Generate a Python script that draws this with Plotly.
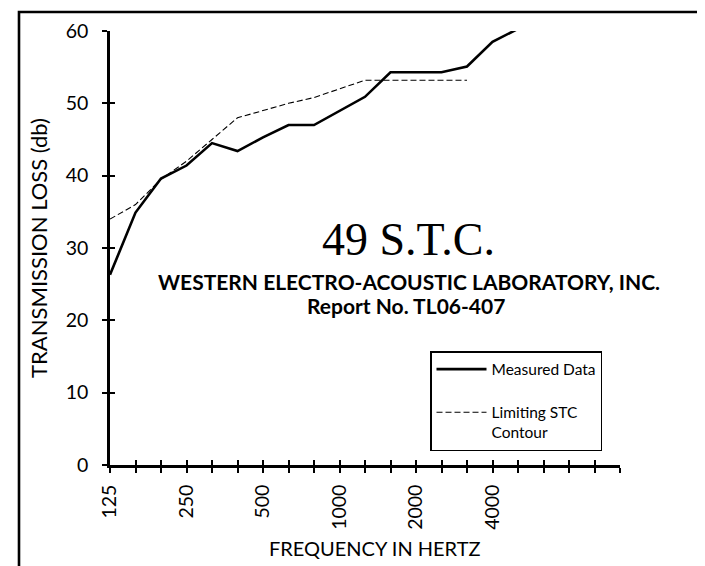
import plotly.graph_objects as go

# ---- data ----
bands = ["125", "160", "200", "250", "315", "400", "500", "630", "800", "1000",
         "1250", "1600", "2000", "2500", "3150", "4000", "5000"]
measured_tl = [26.3, 34.9, 39.6, 41.4, 44.5, 43.4, 45.3, 47.0, 47.0, 49.0,
               50.9, 54.3, 54.3, 54.3, 55.1, 58.5, 60.3]
stc_contour = [34.0, 36.0, 39.5, 42.0, 45.0, 48.0, 49.0, 50.0, 50.8, 52.0,
               53.2, 53.2, 53.2, 53.2, 53.2]
tick_labels = ["125", "", "", "250", "", "", "500", "", "", "1000", "", "",
               "2000", "", "", "4000", "", "", "", "", ""]
y_ticks = [0, 10, 20, 30, 40, 50, 60]

W, H = 705, 566
L, R, T, B = 102, 93, 23, 109
PW, PH = W - L - R, H - T - B


def px(x):
    return (x - L) / PW


def py(y):
    return (H - B - y) / PH


font_family = "Lato"

fig = go.Figure()
fig.add_trace(go.Scatter(
    x=list(range(len(measured_tl))), y=measured_tl, mode="lines",
    name="Measured Data", line=dict(color="black", width=2.6),
    legendgroup="a"))
fig.add_trace(go.Scatter(
    x=list(range(len(stc_contour))), y=stc_contour, mode="lines",
    name="Limiting STC<br>Contour",
    line=dict(color="black", width=1.1, dash="6px,3px"),
    legendgroup="b"))
# invisible trace on overlay axes (for crossing tick marks)
fig.add_trace(go.Scatter(x=[0], y=[0], xaxis="x2", yaxis="y2", mode="lines",
                         showlegend=False, hoverinfo="skip",
                         line=dict(color="rgba(0,0,0,0)")))

tickvals = list(range(len(tick_labels)))
fig.update_layout(
    width=W, height=H,
    margin=dict(l=L, r=R, t=T, b=B),
    paper_bgcolor="white", plot_bgcolor="white",
    font=dict(family=font_family, color="black", size=19),
    xaxis=dict(range=[0, len(tick_labels) - 1], tickmode="array",
               tickvals=tickvals, ticktext=tick_labels, tickangle=-90,
               ticks="outside", ticklen=5, tickwidth=2, tickcolor="black",
               showline=True, linecolor="black", linewidth=2.6,
               showgrid=False, zeroline=False, ticklabelstandoff=4,
               tickfont=dict(size=19.5, family=font_family)),
    yaxis=dict(range=[0, 60], tickmode="array", tickvals=y_ticks,
               ticks="outside", ticklen=5, tickwidth=2, tickcolor="black",
               showline=True, linecolor="black", linewidth=2.6,
               showgrid=False, zeroline=False, ticklabelstandoff=10,
               tickfont=dict(size=19.5, family=font_family),
               title=dict(text="TRANSMISSION LOSS (db)", standoff=12,
                          font=dict(size=22, family=font_family))),
    xaxis2=dict(overlaying="x", matches="x", anchor="y", side="bottom",
                tickmode="array", tickvals=tickvals, ticks="inside",
                ticklen=5, tickwidth=2, tickcolor="black",
                showticklabels=False, showline=False, showgrid=False,
                zeroline=False),
    yaxis2=dict(overlaying="y", matches="y", anchor="x", side="left",
                tickmode="array", tickvals=y_ticks, ticks="inside",
                ticklen=5, tickwidth=2, tickcolor="black",
                showticklabels=False, showline=False, showgrid=False,
                zeroline=False),
    legend=dict(x=px(422), y=py(343), xanchor="left", yanchor="top",
                bgcolor="white", bordercolor="black", borderwidth=1.5,
                font=dict(size=15.5, family=font_family),
                traceorder="grouped", tracegroupgap=20, itemwidth=50,
                valign="top"),
    showlegend=True,
)

# outer frame
fig.add_shape(type="rect", xref="paper", yref="paper",
              x0=px(11), x1=px(701), y0=py(580), y1=py(4),
              line=dict(color="black", width=2.6), fillcolor="rgba(0,0,0,0)",
              layer="below")

fig.add_annotation(text="49 S.T.C.", xref="paper", yref="paper",
                   x=px(400), y=py(231), showarrow=False,
                   font=dict(family="Liberation Serif", size=46, color="black"))
fig.add_annotation(text="<b>WESTERN ELECTRO-ACOUSTIC LABORATORY, INC.</b>",
                   xref="paper", yref="paper", x=px(401), y=py(273),
                   showarrow=False, font=dict(family=font_family, size=21))
fig.add_annotation(text="<b>Report No. TL06-407</b>",
                   xref="paper", yref="paper", x=px(398), y=py(297),
                   showarrow=False, font=dict(family=font_family, size=21))
fig.add_annotation(text="FREQUENCY IN HERTZ", xref="paper", yref="paper",
                   x=px(367), y=py(554), showarrow=False,
                   font=dict(family=font_family, size=20))

fig.write_html("out.html")
